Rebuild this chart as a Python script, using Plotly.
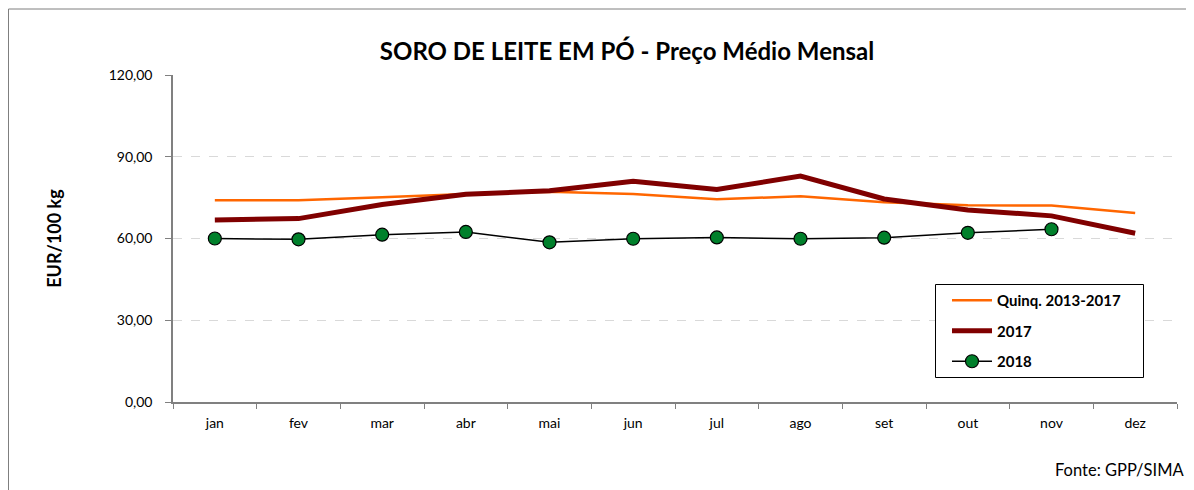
import plotly.graph_objects as go

months = ["jan", "fev", "mar", "abr", "mai", "jun", "jul", "ago", "set", "out", "nov", "dez"]
quinq = [74.0, 74.0, 75.1, 76.3, 77.2, 76.3, 74.4, 75.5, 73.3, 72.2, 72.1, 69.4]
y2017 = [66.8, 67.3, 72.5, 76.2, 77.5, 81.0, 78.0, 82.9, 74.5, 70.5, 68.3, 61.9]
y2018 = [60.0, 59.7, 61.4, 62.4, 58.6, 59.9, 60.4, 59.9, 60.3, 62.1, 63.4]
yticks = [0, 30, 60, 90, 120]
yticklabels = ["0,00", "30,00", "60,00", "90,00", "120,00"]

FONT = "Lato"
OFF = 8  # page body margin offset

W, H = 1194 - OFF, 490 - OFF
L, T = 173 - OFF, 75 - OFF
PW, PH = 1004, 327


def px_x(x):
    return (x - 173) / PW


def px_y(y):
    return (402 - y) / PH


fig = go.Figure()
fig.add_trace(go.Scatter(x=months, y=quinq, mode="lines", name="Quinq. 2013-2017",
                         line=dict(color="#FF6600", width=2.5), legendgroup="a"))
fig.add_trace(go.Scatter(x=months, y=y2017, mode="lines", name="2017",
                         line=dict(color="#800000", width=5), legendgroup="b"))
fig.add_trace(go.Scatter(x=months[:len(y2018)], y=y2018, mode="lines+markers", name="2018",
                         line=dict(color="#000000", width=1.5),
                         marker=dict(size=13, color="#00802B", line=dict(color="#000000", width=1.2)),
                         legendgroup="c"))

fig.update_layout(
    width=W, height=H,
    margin=dict(l=L, r=W - L - PW, t=T, b=H - T - PH),
    paper_bgcolor="white", plot_bgcolor="white",
    font=dict(family=FONT, size=14, color="#000000"),
    title=dict(text="<b>SORO DE LEITE EM PÓ - Preço Médio Mensal</b>",
               x=(627 - OFF) / W, xanchor="center", y=1 - (52 - OFF) / H, yanchor="middle",
               font=dict(family=FONT, size=24, color="#000000")),
    showlegend=True,
    legend=dict(x=px_x(947), y=px_y(284), xanchor="left", yanchor="top",
                borderwidth=0, bgcolor="rgba(0,0,0,0)",
                font=dict(family=FONT, size=15, color="#000000", weight="bold"),
                tracegroupgap=8, itemwidth=40),
    xaxis=dict(type="category", categoryorder="array", categoryarray=months,
               range=[-0.5, 11.5], tickson="boundaries", ticks="outside", ticklen=5,
               tickcolor="#808080", showline=True, linecolor="#808080", linewidth=1.5,
               showgrid=False, tickfont=dict(size=14), ticklabelstandoff=7),
    yaxis=dict(range=[0, 120], tickvals=yticks, ticktext=yticklabels,
               ticks="outside", ticklen=6, tickcolor="#808080",
               showline=True, linecolor="#808080", linewidth=1.5,
               showgrid=True, gridcolor="#D9D9D9", griddash="dash", gridwidth=1,
               zeroline=False, tickfont=dict(size=14), ticklabelstandoff=10,
               title=dict(text="<b>EUR/100 kg</b>", font=dict(size=18), standoff=42)),
    shapes=[
        dict(type="rect", xref="paper", yref="paper",
             x0=px_x(8.5), x1=1.05, y0=-0.35, y1=px_y(9),
             line=dict(color="#7F7F7F", width=1), fillcolor="rgba(0,0,0,0)", layer="below"),
        dict(type="rect", xref="paper", yref="paper",
             x0=px_x(935.5), x1=px_x(1143.5), y0=px_y(377.5), y1=px_y(284.5),
             line=dict(color="#000000", width=1), fillcolor="white", layer="above"),
    ],
    annotations=[dict(text="Fonte: GPP/SIMA", xref="paper", yref="paper",
                      x=px_x(1186), y=px_y(470), xanchor="right", yanchor="middle",
                      showarrow=False, font=dict(size=16.5))],
)

fig.write_html("out.html")
